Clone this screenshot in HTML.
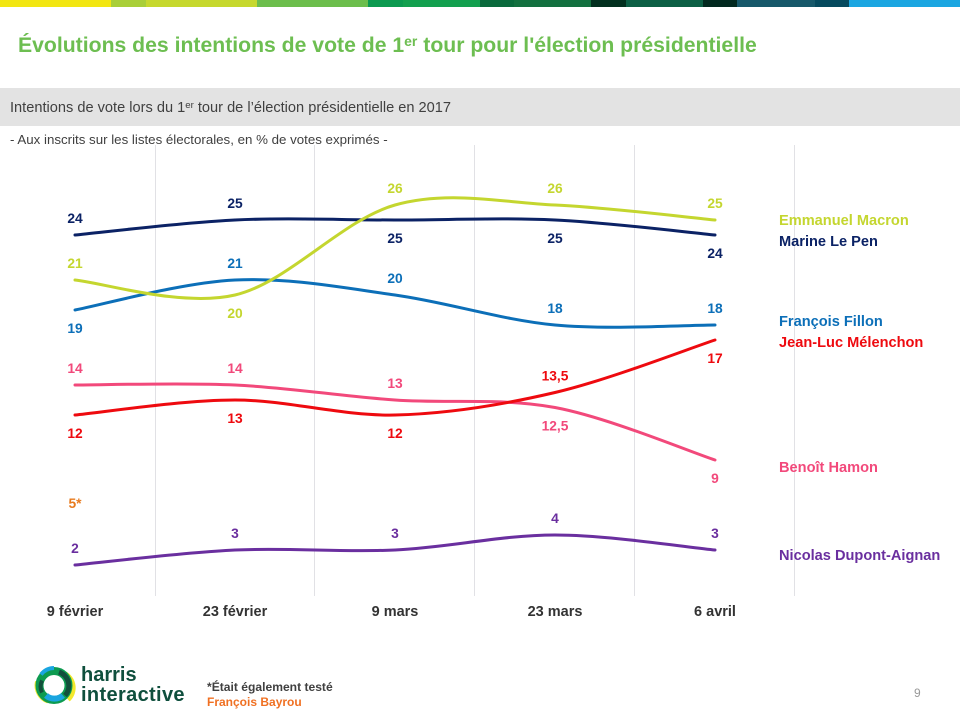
<!DOCTYPE html>
<html lang="fr">
<head>
<meta charset="utf-8">
<title>Évolutions des intentions de vote</title>
<style>
html,body{margin:0;padding:0;background:#fff;}
body{width:960px;height:720px;position:relative;overflow:hidden;font-family:"Liberation Sans",sans-serif;}
.abs{position:absolute;white-space:nowrap;}
sup{font-size:.66em;line-height:0;vertical-align:baseline;position:relative;top:-.42em;}
svg{position:absolute;left:0;top:0;}
</style>
</head>
<body>
<svg id="topbar" width="960" height="7"></svg>
<div class="abs" style="left:18px;top:34px;font-size:21.2px;line-height:24px;font-weight:bold;color:#6dbe51;">Évolutions des intentions de vote de 1<sup>er</sup> tour pour l'élection présidentielle</div>
<div class="abs" style="left:0;top:88px;width:960px;height:38px;background:#e3e3e3;"></div>
<div class="abs" style="left:10px;top:99px;font-size:14.6px;line-height:18px;color:#404040;">Intentions de vote lors du 1<sup>er</sup> tour de l’élection présidentielle en 2017</div>
<div class="abs" style="left:10px;top:132px;font-size:13.3px;line-height:16px;color:#404040;">- Aux inscrits sur les listes électorales, en % de votes exprimés -</div>

<svg id="chart" width="960" height="720"></svg>

<svg width="960" height="720">
  <g fill="none" transform="translate(54 685.500)">
    <path d="M-17 -4A17 17 0 0 0 -6 16" stroke="#f3e92c" stroke-width="4"/>
    <path d="M8 -13A16 16 0 0 1 14 14" stroke="#f3e92c" stroke-width="5"/>
    <circle r="14.500" stroke="#0d9b50" stroke-width="8"/>
    <path d="M-13 -11A17 17 0 0 1 0 -17.500" stroke="#1aa5e0" stroke-width="4"/>
    <path d="M-8 10A13 13 0 0 0 9 10" stroke="#1aa5e0" stroke-width="6"/>
    <path d="M5 -13.500A14.500 14.500 0 0 1 11 10" stroke="#13503c" stroke-width="5"/>
    <path d="M-12 7A13.500 13.500 0 0 1 -12 -5" stroke="#13503c" stroke-width="4"/>
  </g>
</svg>
<div class="abs" style="left:81px;top:664px;font-size:20px;line-height:22px;font-weight:bold;color:#0f4f3d;">harris</div>
<div class="abs" style="left:81px;top:684px;font-size:20px;line-height:22px;font-weight:bold;color:#0f4f3d;letter-spacing:.35px;">interactive</div>
<div class="abs" style="left:207px;top:680px;font-size:12.100px;line-height:15px;font-weight:bold;color:#404040;">*Était également testé</div>
<div class="abs" style="left:207px;top:695px;font-size:12px;line-height:15px;font-weight:bold;color:#f07022;">François Bayrou</div>
<div class="abs" style="left:914px;top:686px;font-size:12px;line-height:15px;color:#999;">9</div>

<script>
var categories = ['9 février', '23 février', '9 mars', '23 mars', '6 avril'];
var macronValues = [21, 20, 26, 26, 25];
var lePenValues = [24, 25, 25, 25, 24];
var fillonValues = [19, 21, 20, 18, 18];
var melenchonValues = [12, 13, 12, 13.5, 17];
var hamonValues = [14, 14, 13, 12.5, 9];
var dupontValues = [2, 3, 3, 4, 3];
var bayrouValues = [5];
var macronSides = ['above', 'below', 'above', 'above', 'above'];
var lePenSides = ['above', 'above', 'below', 'below', 'below'];
var fillonSides = ['below', 'above', 'above', 'above', 'above'];
var melenchonSides = ['below', 'below', 'below', 'above', 'below'];
var hamonSides = ['above', 'above', 'above', 'below', 'below'];
var dupontSides = ['above', 'above', 'above', 'above', 'above'];
var bandColors = ['#f2e611','#a9cf38','#c6d82e','#6cbe4c','#0c9a50','#13a04f','#0a6a3c','#13703f','#03301f','#0c5f45','#02291f','#17586a','#064a5e','#1ba6e1'];
var bandWidths = [111,35,111,111,35,77,34,77,35,77,34,78,34,111];

var SVGNS = 'http://www.w3.org/2000/svg';
var chart = document.getElementById('chart');
var bar = document.getElementById('topbar');

var xOf = function (i) { return 75 + 160 * i; };
var yOf = function (v) { return 595 - 15 * v; };
var gridX = function (i) { return Math.floor(155 + 159.75 * i) + 0.5; };

var bx = 0;
bandWidths.forEach(function (w, i) {
  var r = document.createElementNS(SVGNS, 'rect');
  
  
  r.setAttribute('x', bx);
  r.setAttribute('y', 0);
  r.setAttribute('width', w);
  r.setAttribute('height', 7);
  r.setAttribute('fill', bandColors[i]);
  bar.appendChild(r);
  bx += w;
});

categories.forEach(function (c, i) {
  var g = document.createElementNS(SVGNS, 'line');
  
  
  g.setAttribute('x1', gridX(i));
  g.setAttribute('x2', gridX(i));
  g.setAttribute('y1', 145);
  g.setAttribute('y2', 596);
  g.setAttribute('stroke', '#e1e1e5');
  g.setAttribute('stroke-width', 1);
  chart.appendChild(g);
});

categories.forEach(function (c, i) {
  var t = document.createElementNS(SVGNS, 'text');
  
  
  t.setAttribute('x', xOf(i));
  t.setAttribute('y', 616);
  t.setAttribute('text-anchor', 'middle');
  t.setAttribute('font-size', '14.5');
  t.setAttribute('font-weight', 'bold');
  t.setAttribute('fill', '#333');
  t.textContent = c;
  chart.appendChild(t);
});

function smoothPath(vals) {
  var pts = vals.map(function (v, i) { return [xOf(i), yOf(v)]; });
  var d = 'M' + pts[0][0] + ' ' + pts[0][1];
  for (var i = 0; i < pts.length - 1; i++) {
    var p0 = pts[Math.max(i - 1, 0)], p1 = pts[i], p2 = pts[i + 1], p3 = pts[Math.min(i + 2, pts.length - 1)];
    var c1x = p1[0] + (p2[0] - p0[0]) / 6, c1y = p1[1] + (p2[1] - p0[1]) / 6;
    var c2x = p2[0] - (p3[0] - p1[0]) / 6, c2y = p2[1] - (p3[1] - p1[1]) / 6;
    d += 'C' + c1x + ' ' + c1y + ' ' + c2x + ' ' + c2y + ' ' + p2[0] + ' ' + p2[1];
  }
  return d;
}

function valueLabel(v, i, side, color, suffix) {
  var t = document.createElementNS(SVGNS, 'text');
  
  
  t.setAttribute('x', xOf(i));
  t.setAttribute('y', yOf(v) + (side === 'above' ? -12.2 : 22.8));
  t.setAttribute('text-anchor', 'middle');
  t.setAttribute('font-size', '13.8');
  t.setAttribute('font-weight', 'bold');
  t.setAttribute('fill', color);
  t.textContent = String(v).replace('.', ',') + suffix;
  chart.appendChild(t);
}

function drawSeries(name, vals, sides, color) {
  var p = document.createElementNS(SVGNS, 'path');
  
  
  p.setAttribute('data-series', name);
  p.setAttribute('d', smoothPath(vals));
  p.setAttribute('fill', 'none');
  p.setAttribute('stroke', color);
  p.setAttribute('stroke-width', 3);
  p.setAttribute('stroke-linecap', 'round');
  chart.appendChild(p);
  vals.forEach(function (v, i) { valueLabel(v, i, sides[i], color, ''); });
}

drawSeries('Benoît Hamon', hamonValues, hamonSides, '#f2497b');
drawSeries('Jean-Luc Mélenchon', melenchonValues, melenchonSides, '#ee0a0f');
drawSeries('Nicolas Dupont-Aignan', dupontValues, dupontSides, '#6a2f9f');
drawSeries('François Fillon', fillonValues, fillonSides, '#0c6fb8');
drawSeries('Marine Le Pen', lePenValues, lePenSides, '#0b2265');
drawSeries('Emmanuel Macron', macronValues, macronSides, '#c4d62f');
valueLabel(bayrouValues[0], 0, 'above', '#e87b1e', '*');

function legendEntry(name, lastValue, color, dy) {
  var t = document.createElementNS(SVGNS, 'text');
  
  
  t.setAttribute('x', 779);
  t.setAttribute('y', yOf(lastValue) + dy);
  t.setAttribute('font-size', '14.6');
  t.setAttribute('font-weight', 'bold');
  t.setAttribute('fill', color);
  t.textContent = name;
  chart.appendChild(t);
}
legendEntry('Emmanuel Macron', macronValues[4], '#c4d62f', 5);
legendEntry('Marine Le Pen', lePenValues[4], '#0b2265', 11);
legendEntry('François Fillon', fillonValues[4], '#0c6fb8', 1);
legendEntry('Jean-Luc Mélenchon', melenchonValues[4], '#ee0a0f', 7);
legendEntry('Benoît Hamon', hamonValues[4], '#f2497b', 12);
legendEntry('Nicolas Dupont-Aignan', dupontValues[4], '#6a2f9f', 10);
</script>
</body>
</html>
